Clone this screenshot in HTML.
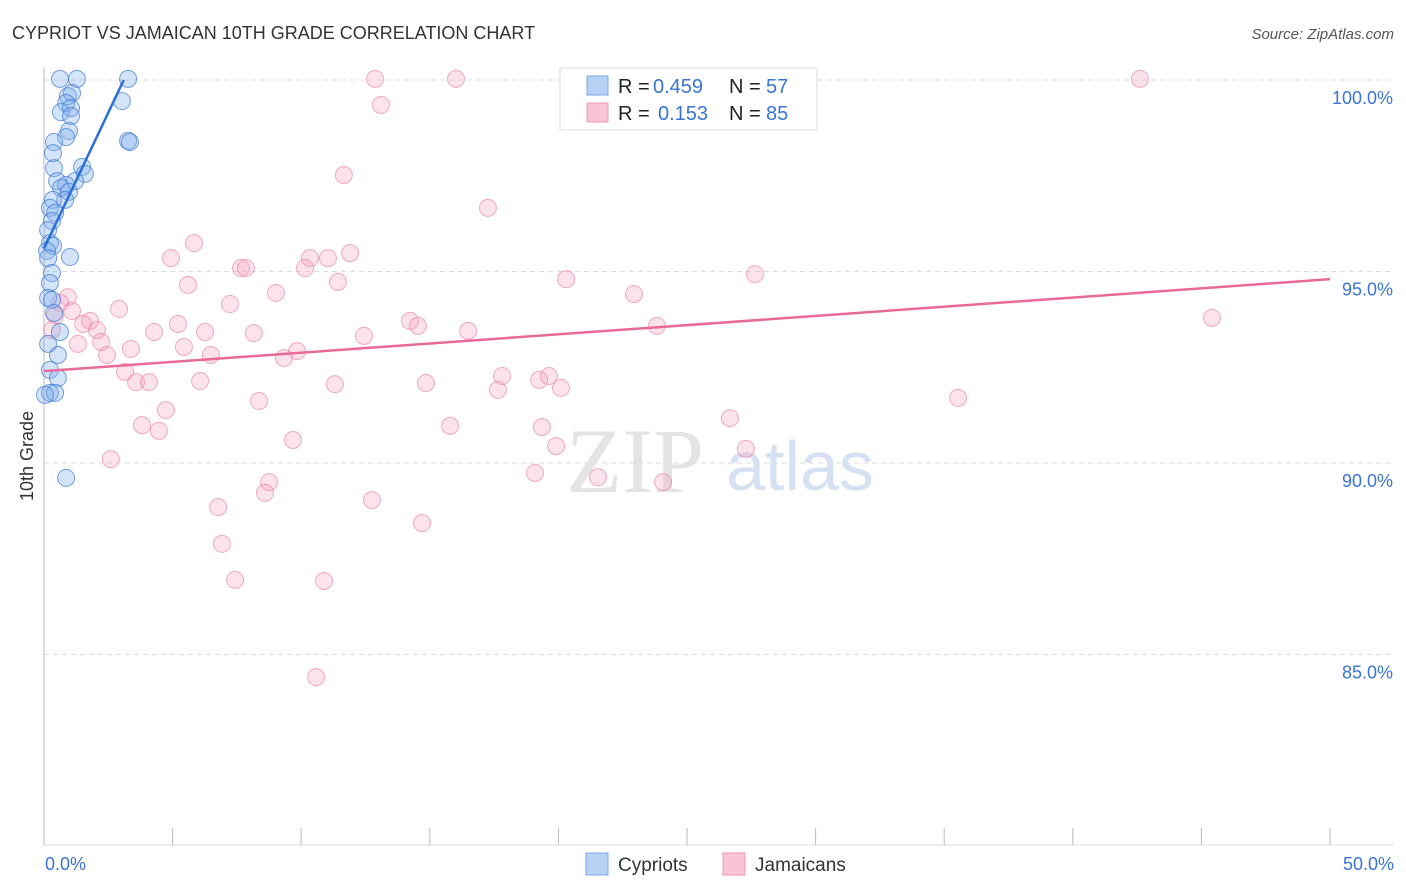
<!DOCTYPE html>
<html><head><meta charset="utf-8"><style>
body{margin:0;background:#fff;font-family:"Liberation Sans",sans-serif;}
svg{display:block}
</style></head><body>
<svg id="c" width="1406" height="892" xmlns="http://www.w3.org/2000/svg">
<text x="12" y="39" font-size="18" fill="#333">CYPRIOT VS JAMAICAN 10TH GRADE CORRELATION CHART</text>
<text x="1394" y="39" font-size="15" fill="#555" font-style="italic" text-anchor="end">Source: ZipAtlas.com</text>
<text x="33" y="456" font-size="18" fill="#333" transform="rotate(-90 33 456)" text-anchor="middle">10th Grade</text>
<g id="grid"></g>
<text x="635" y="492" font-size="92" fill="#e4e4e4" font-family="Liberation Serif,serif" text-anchor="middle">ZIP</text>
<text x="800" y="490" font-size="70" fill="#d6e2f3" text-anchor="middle">atlas</text>
<g id="pts"></g>
<g id="lines"></g>
<g>
<rect x="560" y="68" width="257" height="62" fill="#fff" stroke="#ddd"/>
<rect x="587" y="76" width="21" height="19" fill="#b7d1f5" stroke="#7aa6e6"/>
<rect x="587" y="103" width="21" height="19" fill="#f9c4d4" stroke="#ee9ab3"/>
<text y="93" font-size="20"><tspan x="618" fill="#222">R = </tspan><tspan x="653" fill="#3a74d4">0.459</tspan><tspan x="729" fill="#222">N = </tspan><tspan x="766" fill="#3a74d4">57</tspan></text>
<text y="120" font-size="20"><tspan x="618" fill="#222">R = </tspan><tspan x="658" fill="#3a74d4">0.153</tspan><tspan x="729" fill="#222">N = </tspan><tspan x="766" fill="#3a74d4">85</tspan></text>
</g>
<g>
<rect x="586" y="853" width="22" height="22" fill="#b7d1f5" stroke="#7aa6e6"/>
<text x="618" y="871" font-size="19" fill="#333">Cypriots</text>
<rect x="723" y="853" width="22" height="22" fill="#f9c4d4" stroke="#ee9ab3"/>
<text x="755" y="871" font-size="19" fill="#333">Jamaicans</text>
</g>
</svg>
<script>
const NS="http://www.w3.org/2000/svg";
const yTicks=[100,95,90,85];
const xTickLabels=["0.0%","50.0%"];
const bluePx=[[60,79],[77,79],[128,79],[68,96],[72,93],[66,103],[61,112],[71,108],[71,116],[122,101],[69,131],[66,137],[54,142],[128,141],[130,142],[53,153],[54,168],[82,167],[85,174],[57,181],[75,181],[66,185],[61,188],[69,192],[65,200],[53,200],[50,208],[55,213],[52,221],[48,230],[50,243],[53,246],[47,251],[70,257],[48,258],[52,273],[50,283],[48,298],[52,300],[54,313],[60,332],[58,355],[50,370],[58,378],[50,393],[55,393],[66,478],[48,344],[45,395]];
const pinkPx=[[375,79],[456,79],[728,79],[1140,79],[381,105],[344,175],[488,208],[194,243],[350,253],[171,258],[310,258],[328,258],[241,268],[246,268],[305,268],[566,279],[755,274],[188,285],[338,282],[276,293],[634,294],[68,297],[60,303],[230,304],[119,309],[72,311],[1212,318],[90,321],[178,324],[410,321],[418,326],[83,324],[97,330],[154,332],[205,332],[254,333],[364,336],[468,331],[657,326],[101,342],[78,344],[184,347],[131,349],[297,351],[107,355],[211,355],[284,358],[125,372],[136,382],[149,382],[200,381],[335,384],[426,383],[502,376],[498,390],[539,380],[549,376],[561,388],[166,410],[259,401],[958,398],[142,425],[159,431],[450,426],[542,427],[730,418],[293,440],[556,446],[111,459],[746,449],[535,473],[598,477],[269,482],[265,493],[663,482],[372,500],[218,507],[422,523],[222,544],[235,580],[324,581],[316,677],[52,330],[55,315]];
// convert to data values (x in %, y in %)
const toV=p=>[+((p[0]-44)/1286*50).toFixed(2),+(100-(p[1]-80)/38.3).toFixed(2)];
const cypriotX=bluePx.map(p=>toV(p)[0]), cypriotY=bluePx.map(p=>toV(p)[1]);
const jamaicanX=pinkPx.map(p=>toV(p)[0]), jamaicanY=pinkPx.map(p=>toV(p)[1]);
const cypriotTrend=[[0,95.6],[3.1,100]];
const jamaicanTrend=[[0,92.4],[50,94.8]];
const sx=v=>44+v/50*1286, sy=v=>80+(100-v)*38.3;
function el(t,a,p){const e=document.createElementNS(NS,t);for(const k in a)e.setAttribute(k,a[k]);p.appendChild(e);return e;}
const g=document.getElementById('grid');
yTicks.forEach(v=>{
 const l=el('line',{x1:44,x2:1394,y1:sy(v),y2:sy(v),stroke:'#ddd','stroke-dasharray':'5,4'},g);
 
 
 const t=el('text',{x:1393,y:sy(v)+24,'font-size':18,fill:'#3a74d4','text-anchor':'end'},g);
 t.textContent=v.toFixed(1)+'%';
 
 
});
el('line',{x1:44,x2:44,y1:68,y2:845,stroke:'#bbb'},g);
el('line',{x1:44,x2:1394,y1:845,y2:845,stroke:'#ddd'},g);
for(let i=0;i<=10;i++){const x=sx(i*5);const tk=el('line',{x1:x,x2:x,y1:828,y2:845,stroke:'#bbb'},g);
 
 }
[[0,45,'start'],[1,1394,'end']].forEach(([i,x,a])=>{const t=el('text',{x:x,y:870,'font-size':18,fill:'#3a74d4','text-anchor':a},g);t.textContent=xTickLabels[i];
 
 });
const P=document.getElementById('pts');
jamaicanX.forEach((x,i)=>{const c=el('circle',{cx:sx(x),cy:sy(jamaicanY[i]),r:8.5,fill:'rgba(245,160,190,0.3)',stroke:'rgba(230,120,160,0.6)','stroke-width':1},P);
 
 });
cypriotX.forEach((x,i)=>{const c=el('circle',{cx:sx(x),cy:sy(cypriotY[i]),r:8.5,fill:'rgba(130,175,235,0.35)',stroke:'rgba(60,120,210,0.7)','stroke-width':1},P);
 
 });
const L=document.getElementById('lines');
const b=el('line',{x1:sx(cypriotTrend[0][0]),y1:sy(cypriotTrend[0][1]),x2:sx(cypriotTrend[1][0]),y2:sy(cypriotTrend[1][1]),stroke:'#2a6fd6','stroke-width':2.5},L);


const pl=el('line',{x1:sx(jamaicanTrend[0][0]),y1:sy(jamaicanTrend[0][1]),x2:sx(jamaicanTrend[1][0]),y2:sy(jamaicanTrend[1][1]),stroke:'#e8699a','stroke-width':2.5},L);


</script>
</body></html>
